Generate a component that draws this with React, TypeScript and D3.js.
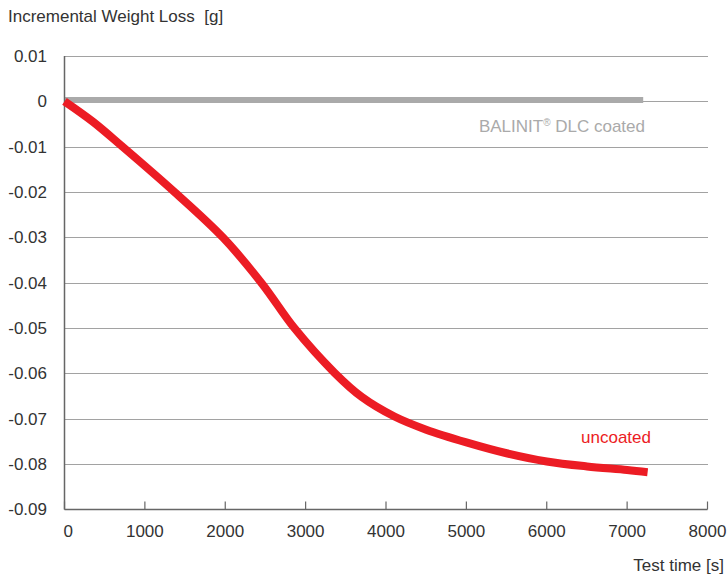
import React from 'react';
import * as d3 from 'd3';

// test time [s] and incremental weight loss [g]
const uncoatedTime = [0, 354, 709, 1375, 1975, 2458, 2860, 3357, 3700, 4105, 4500, 5000, 5500, 6000, 6500, 7000, 7255];
const uncoatedLoss = [0, -0.0045, -0.0098, -0.0201, -0.0301, -0.0402, -0.05, -0.0598, -0.0652, -0.0695, -0.0724, -0.0752, -0.0776, -0.0794, -0.0805, -0.0813, -0.0818];
const coatedTime = [0, 7200];
const coatedLoss = [0.0003, 0.0003];

const xTicks = [0, 1000, 2000, 3000, 4000, 5000, 6000, 7000, 8000];
const yTicks = [0.01, 0, -0.01, -0.02, -0.03, -0.04, -0.05, -0.06, -0.07, -0.08, -0.09];

const width = 728;
const height = 576;
const margin = { top: 56, left: 64.5 };
const font = '"Liberation Sans", Arial, Helvetica, sans-serif';

const fmtY = (v: number) => (v === 0 ? '0' : d3.format('.2f')(v).replace('−', '-'));

const App: React.FC = () => {
    const x = d3.scaleLinear().domain([0, 8000]).range([margin.left, 707.5]);
    const y = d3.scaleLinear().domain([-0.09, 0.01]).range([509.5, margin.top]);

    const line = d3
        .line<number>()
        .x((_, i) => x(uncoatedTime[i]))
        .y(d => y(d))
        .curve(d3.curveCatmullRom.alpha(0.5));

    const coatedLine = d3
        .line<number>()
        .x((_, i) => x(coatedTime[i]))
        .y(d => y(d));

    return (
        <svg width={width} height={height} style={{ position: 'absolute', left: 0, top: 0 }} fontFamily={font}>
            <rect width={width} height={height} fill="#fff" />
            <text x={8} y={22} fontSize={17} fill="#333" style={{ whiteSpace: 'pre' }}>Incremental Weight Loss  [g]</text>

            {yTicks.map(t => (
                <g key={t}>
                    {t !== -0.09 && (
                        <line x1={x(0)} x2={x(8000)} y1={Math.round(y(t)) + 0.5} y2={Math.round(y(t)) + 0.5}
                            stroke="#444" strokeWidth={1} strokeDasharray="1,1" />
                    )}
                    <text x={47} y={y(t)} dy="0.35em" textAnchor="end" fontSize={17} fill="#333">{fmtY(t)}</text>
                </g>
            ))}

            <path d={coatedLine(coatedLoss) || ''} fill="none" stroke="#aaaaaa" strokeWidth={6} />

            <line x1={x(0)} x2={x(0)} y1={y(0.01)} y2={y(-0.09)} stroke="#666" strokeWidth={1.5} />
            <line x1={x(0)} x2={x(8000)} y1={y(-0.09)} y2={y(-0.09)} stroke="#666" strokeWidth={1.5} />
            {xTicks.map(t => (
                <g key={t}>
                    <line x1={x(t)} x2={x(t)} y1={y(-0.09)} y2={y(-0.09) - 8} stroke="#666" strokeWidth={1.2} />
                    <text x={t === 0 ? x(t) - 1 : x(t)} y={537} textAnchor={t === 0 ? 'start' : 'middle'} fontSize={17} fill="#333">{t}</text>
                </g>
            ))}

            <path d={line(uncoatedLoss) || ''} fill="none" stroke="#ec1c24" strokeWidth={8} strokeLinecap="butt" />

            <text x={645} y={132} textAnchor="end" fontSize={17} fill="#aaaaaa">
                BALINIT<tspan fontSize={10} dy={-6}>®</tspan><tspan dy={6}> DLC coated</tspan>
            </text>
            <text x={651} y={443} textAnchor="end" fontSize={17} fill="#ec1c24">uncoated</text>
            <text x={724} y={571} textAnchor="end" fontSize={17} fill="#333">Test time [s]</text>
        </svg>
    );
};

export default App;
